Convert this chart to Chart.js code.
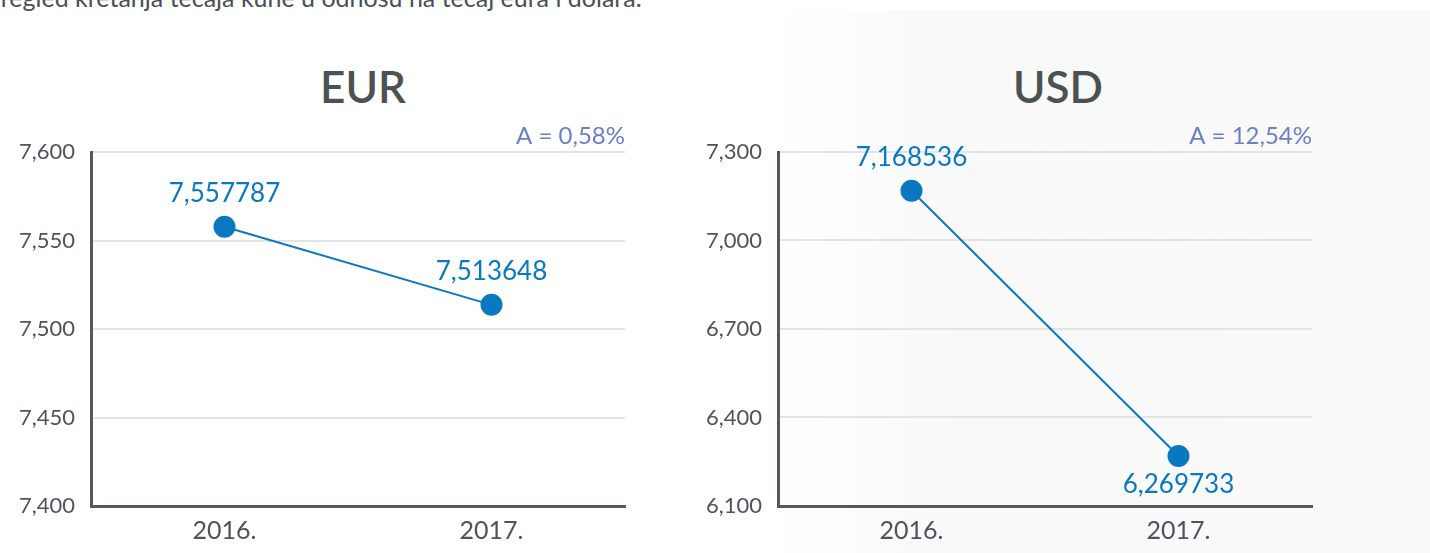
<!DOCTYPE html>
<html>
<head>
<meta charset="utf-8">
<script src="https://cdn.jsdelivr.net/npm/chart.js@4"></script>
<style>
  body { margin: 0; width: 1430px; height: 553px; overflow: hidden; background: #fff; font-family: Lato, sans-serif; position: relative; }
  .intro { position: absolute; left: -14px; top: -18px; font-size: 25px; color: #4a4f57; white-space: nowrap; }
  .shade { position: absolute; left: 760px; top: 10px; width: 670px; height: 543px;
           background: linear-gradient(90deg, rgba(246,246,247,0) 0%, rgba(246,246,247,0.7) 30%, rgba(248,248,249,0.8) 100%); }
  .title { position: absolute; top: 60px; font-size: 44px; font-weight: 600; color: #4b5252; text-align: center; width: 300px; }
  .box { position: absolute; top: 110px; width: 700px; height: 443px; }
</style>
</head>
<body>
<div class="intro">Pregled kretanja tečaja kune u odnosu na tečaj eura i dolara.</div>
<div class="shade"></div>
<div class="title" style="left:213px">EUR</div>
<div class="title" style="left:908px">USD</div>
<div class="box" style="left:0"><canvas id="eur"></canvas></div>
<div class="box" style="left:687px"><canvas id="usd"></canvas></div>
<script>
// categories and values
const years = ['2016.', '2017.'];
const eurValues = [7.557787, 7.513648];
const usdValues = [7.168536, 6.269733];
const eurLabels = ['7,557787', '7,513648'];
const usdLabels = ['7,168536', '6,269733'];
const eurChange = 'A = 0,58%';
const usdChange = 'A = 12,54%';

const blue = '#0a78c0';
const axisGrey = '#525a5a';

// draws the value above/below each point and the change note at top right
const labelPlugin = {
  id: 'pointLabels',
  afterDatasetsDraw(chart, args, opts) {
    const ctx = chart.ctx;
    const meta = chart.getDatasetMeta(0);
    ctx.save();
    ctx.font = '26px Lato, sans-serif';
    ctx.fillStyle = blue;
    ctx.textAlign = 'center';
    ctx.textBaseline = 'middle';
    meta.data.forEach((pt, i) => {
      const dy = opts.places[i] === 'below' ? 29 : -33;
      ctx.fillText(opts.labels[i], pt.x, pt.y + dy);
    });
    ctx.font = '24px Lato, sans-serif';
    ctx.fillStyle = '#6b7fc6';
    ctx.textAlign = 'right';
    ctx.fillText(opts.note, chart.chartArea.right, chart.chartArea.top - 16);
    ctx.restore();
  }
};

function makeChart(id, values, labels, places, note, min, max, step) {
  new Chart(document.getElementById(id), {
    type: 'line',
    data: {
      labels: years,
      datasets: [{
        data: values,
        borderColor: blue,
        backgroundColor: blue,
        borderWidth: 2,
        pointRadius: 10,
        pointHoverRadius: 10,
        tension: 0
      }]
    },
    options: {
      responsive: false,
      animation: false,
      layout: { padding: { top: 42, right: 75, left: 0, bottom: 0 } },
      plugins: {
        legend: { display: false },
        tooltip: { enabled: false },
        pointLabels: { labels: labels, places: places, note: note }
      },
      scales: {
        x: {
          offset: true,
          afterFit(scale) { scale.height = 47; },
          grid: { display: false, drawTicks: false },
          border: { color: axisGrey, width: 3 },
          ticks: { padding: 10, color: '#4e5360', font: { family: 'Lato', size: 25 } }
        },
        y: {
          min: min, max: max,
          afterFit(scale) { scale.width = 91; },
          grid: { color: '#e4e4e4', lineWidth: 2, drawTicks: false },
          border: { color: axisGrey, width: 3 },
          ticks: {
            stepSize: step, padding: 16, color: '#4e5360',
            font: { family: 'Lato', size: 22 },
            callback: v => v.toFixed(3).replace('.', ',')
          }
        }
      }
    },
    plugins: [labelPlugin]
  });
}

document.querySelectorAll('canvas').forEach(c => { c.width = 700; c.height = 443; });
makeChart('eur', eurValues, eurLabels, ['above', 'above'], eurChange, 7.4, 7.6, 0.05);
makeChart('usd', usdValues, usdLabels, ['above', 'below'], usdChange, 6.1, 7.3, 0.3);
</script>
</body>
</html>
